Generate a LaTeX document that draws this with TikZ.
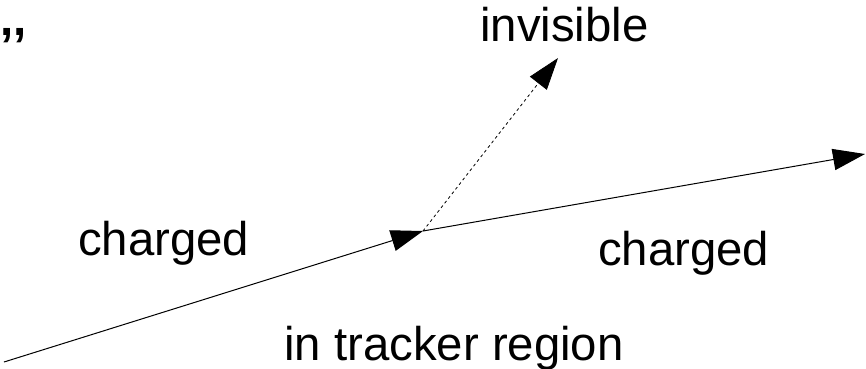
\documentclass[tikz,border=0pt]{standalone}
\usepackage{fontspec}
\setmainfont{Liberation Sans}
\usepackage{tikz}
\usetikzlibrary{arrows.meta,positioning}

\begin{document}
\begin{tikzpicture}[x=0.75pt,y=-0.75pt,
  track/.style={line width=0.75pt, -{Triangle[length=24pt,width=16pt]}},
  ghost/.style={line width=0.6pt, dash pattern=on 2.2pt off 2.2pt, -{Triangle[length=24pt,width=16pt]}},
  lbl/.style={inner sep=0pt, anchor=base west, font=\fontsize{35.5}{41}\selectfont}]
\useasboundingbox (0,0) rectangle (866,368);
\coordinate (start) at (4,362);
\coordinate (vtx) at (423,231);
\coordinate (out) at (865,154);
\coordinate (inv) at (558,58);
\draw[track] (start) -- (vtx);
\draw[track] (vtx) -- (out);
\draw[ghost] (vtx) -- (inv);
\node[lbl, font=\fontsize{35.5}{41}\selectfont\bfseries] (quote) at (0,35) {{,}{,}};
\node[lbl] (invlbl) at (480,41) {invisible};
\node[lbl] (chin) at (78,255) {charged};
\node[lbl] (chout) at (598,265) {charged};
\node[lbl] (region) at (284,360) {in tracker region};
\end{tikzpicture}
\end{document}
